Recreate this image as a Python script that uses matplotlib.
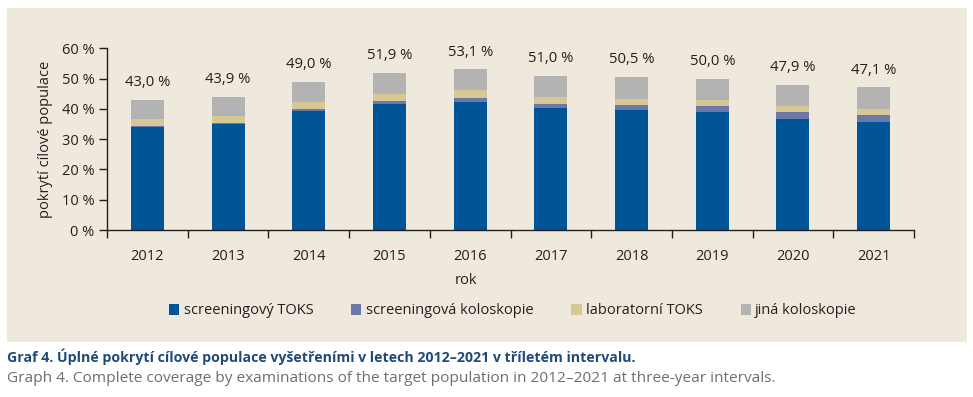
import matplotlib.pyplot as plt
import numpy as np
from matplotlib.patches import Rectangle

plt.rcParams['font.family'] = ['Open Sans', 'DejaVu Sans']

years = ["2012", "2013", "2014", "2015", "2016", "2017", "2018", "2019", "2020", "2021"]
screening_toks = [34.1, 35.0, 39.4, 41.6, 42.3, 40.4, 39.7, 39.0, 36.8, 35.5]
screening_kolo = [0.4, 0.3, 0.7, 1.0, 1.3, 1.2, 1.5, 2.0, 2.2, 2.4]
lab_toks = [2.2, 2.4, 2.2, 2.3, 2.7, 2.3, 2.2, 2.0, 2.0, 2.2]
jina_kolo = [6.3, 6.2, 6.7, 7.0, 6.8, 7.1, 7.1, 7.0, 6.9, 7.0]
totals = ["43,0 %", "43,9 %", "49,0 %", "51,9 %", "53,1 %", "51,0 %", "50,5 %", "50,0 %", "47,9 %", "47,1 %"]

series = [screening_toks, screening_kolo, lab_toks, jina_kolo]
names = ["screeningový TOKS", "screeningová koloskopie", "laboratorní TOKS", "jiná koloskopie"]
colors = ["#005596", "#6c78a8", "#d6c795", "#b3b3b3"]
bg = "#efe9dd"

W, H = 973, 397
fig = plt.figure(figsize=(W / 100, H / 100), dpi=100)
fig.patch.set_facecolor("white")

# beige panel behind the chart
fig.patches.append(Rectangle((7 / W, 1 - 342 / H), 960 / W, 334 / H,
                             transform=fig.transFigure, facecolor=bg,
                             edgecolor="none", zorder=-10))

ax = fig.add_axes([107 / W, 1 - 230 / H, 807 / W, 181.7 / H])
ax.set_facecolor("none")
ax.set_zorder(1)

x = np.arange(len(years))
bottom = np.zeros(len(years))
handles = []
for vals, name, c in zip(series, names, colors):
    b = ax.bar(x, vals, width=0.41, bottom=bottom, color=c, label=name, zorder=2)
    handles.append(b)
    bottom += np.array(vals)

for xi, top, lbl in zip(x, bottom, totals):
    ax.text(xi, top + 3.2, lbl, ha="center", va="bottom", fontsize=10.7, color="#231f20")

ax.set_xlim(-0.5, len(years) - 0.5)
ax.set_ylim(0, 60)
ax.set_yticks(range(0, 61, 10))
ax.set_yticklabels([f"{v} %" for v in range(0, 61, 10)], fontsize=10.5, color="#231f20")
ax.set_xticks(x)
ax.set_xticklabels(years, fontsize=10.5, color="#231f20")
ax.set_xticks(np.arange(-0.5, len(years), 1.0), minor=True)
ax.tick_params(axis="x", which="major", length=0, pad=14)
ax.tick_params(axis="x", which="minor", length=6, width=1, color="#231f20")
ax.tick_params(axis="y", length=6, width=1, color="#231f20", pad=3)
for s in ["top", "right"]:
    ax.spines[s].set_visible(False)
for s in ["left", "bottom"]:
    ax.spines[s].set_color("#231f20")
    ax.spines[s].set_linewidth(1)

ax.set_ylabel("pokrytí cílové populace", fontsize=10.5, color="#231f20", labelpad=6)

fig.text(466 / W, 1 - 281 / H, "rok", ha="center", va="center", fontsize=10.5, color="#231f20")

leg = fig.legend(handles=handles, labels=names, loc="center", ncol=4,
                 bbox_to_anchor=(513 / W, 1 - 311 / H), frameon=False,
                 fontsize=10.5, handlelength=0.7, handleheight=0.7,
                 handletextpad=0.3, columnspacing=2.6, labelcolor="#231f20")

fig.text(7 / W, 1 - 357 / H,
         "Graf 4. Úplné pokrytí cílové populace vyšetřeními v letech 2012–2021 v tříletém intervalu.",
         ha="left", va="center", fontsize=10.15, fontweight="bold", color="#1f4a78")
fig.text(7 / W, 1 - 379 / H,
         "Graph 4. Complete coverage by examinations of the target population in 2012–2021 at three-year intervals.",
         ha="left", va="center", fontsize=11.05, color="#6d6e71")

fig.savefig("out.png", dpi=100)
